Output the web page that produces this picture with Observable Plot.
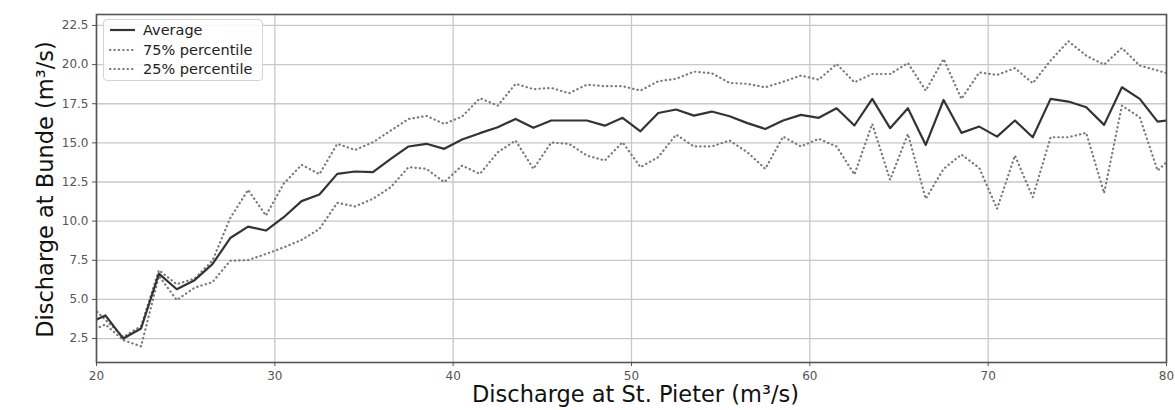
<!DOCTYPE html>
<html><head><meta charset="utf-8">
<script src="https://cdn.jsdelivr.net/npm/d3@7"></script>
<script src="https://cdn.jsdelivr.net/npm/@observablehq/plot@0.6"></script>
<style>
body{margin:0;background:#fff;}
#chart{position:relative;width:1175px;height:410px;}
#legend{position:absolute;left:103px;top:19px;width:160px;height:62px;box-sizing:border-box;border:1px solid #d4d4d4;border-radius:4px;background:rgba(255,255,255,0.85);font-family:"DejaVu Sans",sans-serif;font-size:14.5px;color:#222;}
.row{position:absolute;left:4px;height:19px;display:flex;align-items:center;white-space:nowrap;}
.row svg{margin-right:7px}
</style></head>
<body>
<div id="chart"></div>
<script>
// bin centres of discharge at St. Pieter (m3/s)
const pieter = [19.5,20.5,21.5,22.5,23.5,24.5,25.5,26.5,27.5,28.5,29.5,30.5,31.5,32.5,33.5,34.5,35.5,36.5,37.5,38.5,39.5,40.5,41.5,42.5,43.5,44.5,45.5,46.5,47.5,48.5,49.5,50.5,51.5,52.5,53.5,54.5,55.5,56.5,57.5,58.5,59.5,60.5,61.5,62.5,63.5,64.5,65.5,66.5,67.5,68.5,69.5,70.5,71.5,72.5,73.5,74.5,75.5,76.5,77.5,78.5,79.5,80.5];
const average = [3.46,3.98,2.5,3.14,6.65,5.65,6.23,7.25,8.92,9.65,9.4,10.25,11.28,11.7,13.02,13.17,13.13,13.98,14.77,14.94,14.62,15.21,15.62,16.0,16.53,15.96,16.43,16.43,16.43,16.1,16.6,15.74,16.91,17.13,16.74,17.0,16.7,16.26,15.89,16.43,16.79,16.6,17.21,16.11,17.81,15.94,17.21,14.87,17.74,15.64,16.04,15.4,16.43,15.36,17.81,17.64,17.28,16.15,18.55,17.81,16.36,16.5];
const p75 = [4.8,3.7,2.6,3.3,6.87,5.97,6.33,7.47,10.2,12.0,10.36,12.4,13.6,13.0,14.94,14.55,15.04,15.79,16.53,16.72,16.21,16.68,17.85,17.38,18.77,18.43,18.51,18.17,18.72,18.62,18.62,18.34,18.94,19.09,19.55,19.45,18.83,18.77,18.55,18.9,19.3,19.04,20.04,18.87,19.4,19.4,20.1,18.34,20.36,17.81,19.5,19.34,19.77,18.81,20.26,21.49,20.57,20.0,21.06,19.94,19.62,19.3];
const p25 = [2.9,3.4,2.4,2.0,6.5,4.96,5.75,6.1,7.47,7.51,7.9,8.32,8.8,9.5,11.17,10.94,11.43,12.17,13.45,13.34,12.49,13.55,13.02,14.4,15.15,13.34,15.02,14.94,14.19,13.87,15.04,13.45,14.09,15.53,14.77,14.77,15.15,14.4,13.34,15.4,14.77,15.26,14.77,12.98,16.21,12.64,15.57,11.43,13.34,14.26,13.4,10.79,14.19,11.53,15.36,15.36,15.64,11.79,17.38,16.64,13.23,14.3];
const xTicks = [20,30,40,50,60,70,80];
const yTicks = [2.5,5.0,7.5,10.0,12.5,15.0,17.5,20.0,22.5];
const seriesNames = ["Average","75% percentile","25% percentile"];
const xLabel = "Discharge at St. Pieter (m³/s)";
const yLabel = "Discharge at Bunde (m³/s)";

const rows = pieter.map((x,i)=>({x, avg:average[i], p75:p75[i], p25:p25[i]}));

const dotted = {stroke:"#7a7a7a", strokeWidth:2.2, strokeDasharray:"0.4,4", strokeLinecap:"round"};
const solid = {stroke:"#333", strokeWidth:2.2};

const chart = Plot.plot({
  width:1175, height:410,
  marginLeft:96, marginRight:9, marginTop:14, marginBottom:48,
  style:{fontFamily:"DejaVu Sans, sans-serif", background:"#fff", overflow:"visible"},
  x:{domain:[20,80], label:null},
  y:{domain:[0.97,23.2], label:null},
  marks:[
    Plot.gridX(xTicks,{stroke:"#c8c8c8", strokeOpacity:1, strokeWidth:1.3}),
    Plot.gridY(yTicks,{stroke:"#c8c8c8", strokeOpacity:1, strokeWidth:1.3}),
    Plot.line(rows,{x:"x", y:"p75", clip:true, ...dotted}),
    Plot.line(rows,{x:"x", y:"p25", clip:true, ...dotted}),
    Plot.line(rows,{x:"x", y:"avg", clip:true, ...solid}),
    Plot.frame({stroke:"#555", strokeWidth:1.6}),
    Plot.axisX(xTicks,{tickSize:4, tickPadding:5, fontSize:12, color:"#555", label:null}),
    Plot.axisY(yTicks,{tickSize:4, tickPadding:4, fontSize:12, color:"#555", label:null, tickFormat:d=>d.toFixed(1)}),
    Plot.text([yLabel],{text:d=>d, frameAnchor:"left", textAnchor:"middle", lineAnchor:"middle", dx:-51, dy:1, rotate:-90, fontSize:22.5, fill:"#111"}),
    Plot.text([xLabel],{text:d=>d, frameAnchor:"bottom", textAnchor:"middle", lineAnchor:"middle", dx:4, dy:32, fontSize:22.5, fill:"#111"})
  ]
});
const host = document.getElementById("chart");
host.appendChild(chart);

// legend overlay
const legend = document.createElement("div");
legend.id = "legend";
const styles = [solid, dotted, dotted];
seriesNames.forEach((name,i)=>{
  const row = document.createElement("div");
  row.className = "row";
  row.style.top = (0.5 + i*19.5) + "px";
  const s = styles[i];
  row.innerHTML = `<svg width="28" height="10"><line x1="2" y1="5" x2="27" y2="5" stroke="${s.stroke}" stroke-width="${s.strokeWidth}" ${s.strokeDasharray?`stroke-dasharray="${s.strokeDasharray}" stroke-linecap="round"`:""}/></svg><span>${name}</span>`;
  legend.appendChild(row);
});
host.appendChild(legend);
</script>
</body></html>
